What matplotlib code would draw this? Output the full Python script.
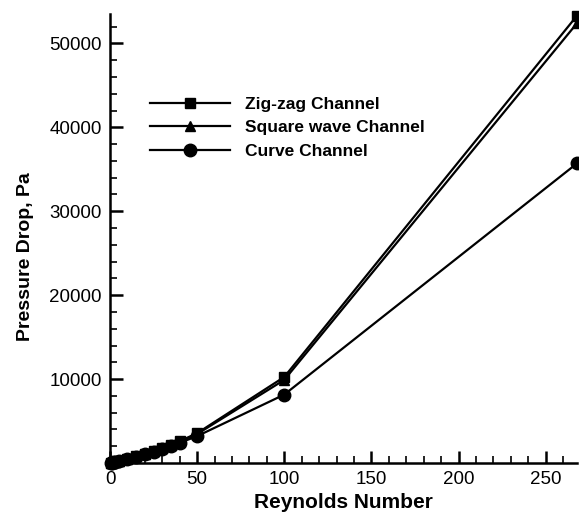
import matplotlib
matplotlib.use("Agg")
import matplotlib.pyplot as plt
from matplotlib.ticker import MultipleLocator, FixedLocator

plt.rcParams['font.family'] = ['Liberation Sans', 'DejaVu Sans']

re_vals = [0.5, 1, 2, 3, 5, 10, 15, 20, 25, 30, 35, 40, 50, 100, 268]
zigzag = [15, 35, 80, 130, 230, 520, 820, 1120, 1450, 1800, 2200, 2600, 3550, 10250, 53300]
square = [15, 34, 78, 125, 225, 510, 800, 1100, 1420, 1770, 2150, 2550, 3450, 9900, 52400]
curve = [14, 32, 72, 115, 210, 480, 760, 1050, 1350, 1680, 2030, 2400, 3200, 8150, 35700]

labels = ['Zig-zag Channel', 'Square wave Channel', 'Curve Channel']

fig = plt.figure(figsize=(5.79, 5.15), dpi=100)
ax = fig.add_axes([110/579, 1-463/515, (577-110)/579, (463-14)/515])

lw = 1.6
ax.plot(re_vals, zigzag, color='black', lw=lw, marker='s', ms=7, label=labels[0], clip_on=False, zorder=3)
ax.plot(re_vals, square, color='black', lw=lw, marker='^', ms=7, label=labels[1], clip_on=False, zorder=3)
ax.plot(re_vals, curve, color='black', lw=lw, marker='o', ms=9, label=labels[2], clip_on=False, zorder=3)

ax.set_xlim(0, 268)
ax.set_ylim(0, 53500)
ax.xaxis.set_major_locator(MultipleLocator(50))
ax.xaxis.set_minor_locator(MultipleLocator(10))
ax.yaxis.set_major_locator(FixedLocator([0, 10000, 20000, 30000, 40000, 50000]))
ax.yaxis.set_minor_locator(MultipleLocator(2000))
ax.set_yticklabels(['', '10000', '20000', '30000', '40000', '50000'])

for s in ['top', 'right']:
    ax.spines[s].set_visible(False)
for s in ['left', 'bottom']:
    ax.spines[s].set_linewidth(1.8)

ax.tick_params(which='major', direction='in', length=9, width=1.8, labelsize=13.5, pad=6)
ax.tick_params(which='minor', direction='in', length=5, width=1.2)

ax.set_xlabel('Reynolds Number', fontsize=15, fontweight='bold', labelpad=3)
ax.set_ylabel('Pressure Drop, Pa', fontsize=14, fontweight='bold', labelpad=10)
ax.yaxis.set_label_coords(-0.163, 0.46)

leg = ax.legend(loc='upper left', bbox_to_anchor=(0.053, 0.851), frameon=False,
                handlelength=4.6, handletextpad=0.86, labelspacing=0.48,
                prop={'size': 12.5, 'weight': 'bold'})

fig.savefig('out.png', dpi=100)
